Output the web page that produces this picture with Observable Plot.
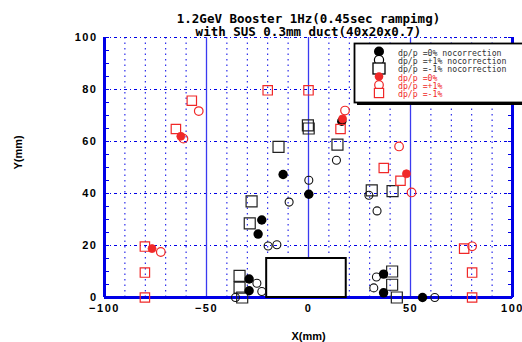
<!DOCTYPE html>
<html><head><meta charset="utf-8">
<script src="https://cdn.jsdelivr.net/npm/d3@7"></script>
<script src="https://cdn.jsdelivr.net/npm/@observablehq/plot@0.6"></script>
<style>
body{margin:0;background:#fff;}
#wrap{position:relative;width:522px;height:342px;overflow:hidden;background:#fff;}
#legend{position:absolute;left:353px;top:42px;}
</style></head><body><div id="wrap"></div>
<script>
// ---- text ----
const titleLines = ["1.2GeV Booster 1Hz(0.45sec rampimg)", "with SUS 0.3mm duct(40x20x0.7)"];
const xLabel = "X(mm)";
const yLabel = "Y(mm)";
const xTicks = [-100, -50, 0, 50, 100];
const yTicks = [0, 20, 40, 60, 80, 100];
const legendLabels = ["dp/p =0% nocorrection", "dp/p =+1% nocorrection", "dp/p =-1% nocorrection", "dp/p =0%", "dp/p =+1%", "dp/p =-1%"];

// ---- duct outline ----
const ductX = [-20.5, 18.5];
const ductY = [0, 15];

// ---- series: no correction ----
const nc0X = [-12.45, 0.15, -22.9, -24.7, -29.1, -29.1, 16.3, 36.8, 36.8, 55.9];
const nc0Y = [47.3, 39.7, 29.8, 24.4, 7.1, 2.6, 67.8, 9.0, 1.8, 0];
const ncPX = [13.7, 0.15, -9.5, -19.8, -15.5, -25.3, -22.9, -35.8, 29.6, 33.6, 33.3, 32.0, 61.9];
const ncPY = [52.8, 45.1, 36.7, 19.8, 20.3, 5.5, 2.3, 0, 39.3, 33.3, 7.9, 3.7, 0];
const ncMX = [-0.3, 0.1, -14.7, 14.2, -27.9, -28.8, -33.8, -33.8, -32.5, 31.0, 41.2, 41.0, 41.0, 43.3];
const ncMY = [66.2, 65.0, 57.9, 58.8, 37.0, 28.5, 8.3, 3.8, 0, 41.2, 40.9, 10.0, 4.9, 0];

// ---- series: with correction ----
const c0X = [-62.6, -76.7, 16.7, 48.0];
const c0Y = [62.0, 18.8, 68.7, 47.6];
const cPX = [-53.8, -61.3, -72.4, 17.9, 44.4, 50.5, 80.2];
const cPY = [71.7, 61.1, 17.5, 71.9, 58.1, 40.4, 19.7];
const cMX = [-57.2, -65.0, -80.2, -80.2, -80.2, -20.0, 0, 15.7, 36.9, 45.1, 76.3, 80.2, 80.2];
const cMY = [75.7, 64.8, 19.6, 9.6, 0, 79.7, 79.7, 64.8, 49.8, 44.9, 18.8, 9.6, 0];

const zip = (xs, ys) => xs.map((x, i) => ({x, y: ys[i]}));
const duct = [{x1: ductX[0], x2: ductX[1], y1: ductY[0], y2: ductY[1]}];

const BLUE = "#0000e6";
const RED = "#f02828";
const gridV = d3.range(-90, 100, 10).filter(v => v % 50 !== 0);
const gridH = [20, 40, 60, 80, 100];
const minorY = d3.range(0, 101, 5);

const tickFont = {fontFamily: "'Liberation Sans', Arial, sans-serif", fontWeight: "bold", fontSize: 11};

const plot = Plot.plot({
  width: 522, height: 342,
  marginLeft: 104, marginRight: 10, marginTop: 37, marginBottom: 45,
  x: {domain: [-100, 100], label: null},
  y: {domain: [0, 100], label: null},
  style: {background: "white", color: "black"},
  marks: [
    Plot.ruleX(gridV, {stroke: BLUE, strokeWidth: 1, strokeDasharray: "1.5,4"}),
    Plot.ruleY(gridH, {stroke: BLUE, strokeWidth: 1, strokeDasharray: "3,3,1,3"}),
    Plot.ruleX([-50, 0, 50], {stroke: "#3a3af0", strokeWidth: 1.3}),
    Plot.axisY({anchor: "left", ticks: minorY, tickSize: -5, tickFormat: () => "", stroke: BLUE, label: null}),
    Plot.axisY({anchor: "right", ticks: minorY, tickSize: -5, tickFormat: () => "", stroke: BLUE, label: null}),
    Plot.axisY({anchor: "left", ticks: yTicks, tickSize: 0, tickPadding: 7, label: null, ...tickFont}),
    Plot.axisX({anchor: "bottom", ticks: xTicks, tickSize: 0, tickPadding: 7, label: null, ...tickFont}),
    Plot.ruleX([-100, 100], {stroke: BLUE, strokeWidth: 3}),
    Plot.ruleY([0], {stroke: BLUE, strokeWidth: 3}),
    Plot.rect(duct, {x1: "x1", x2: "x2", y1: "y1", y2: "y2", fill: "white", stroke: "black", strokeWidth: 2}),
    Plot.dot(zip(ncMX, ncMY), {x: "x", y: "y", symbol: "square", r: 6.2, stroke: "#222", strokeWidth: 1.2, fill: "none"}),
    Plot.dot(zip(ncPX, ncPY), {x: "x", y: "y", r: 4, stroke: "#111", strokeWidth: 1.1, fill: "none"}),
    Plot.dot(zip(nc0X, nc0Y), {x: "x", y: "y", r: 4.7, fill: "black", stroke: "none"}),
    Plot.dot(zip(cMX, cMY), {x: "x", y: "y", symbol: "square", r: 5.3, stroke: RED, strokeWidth: 1.2, fill: "none"}),
    Plot.dot(zip(cPX, cPY), {x: "x", y: "y", r: 4.3, stroke: RED, strokeWidth: 1.2, fill: "none"}),
    Plot.dot(zip(c0X, c0Y), {x: "x", y: "y", r: 4, fill: RED, stroke: RED, strokeWidth: 0.8}),
    Plot.text([titleLines[0]], {frameAnchor: "top", lineAnchor: "middle", dy: -18.5, fontFamily: "'DejaVu Sans Mono', monospace", fontWeight: "bold", fontSize: 12.5, fill: "black"}),
    Plot.text([titleLines[1]], {frameAnchor: "top", lineAnchor: "middle", dy: -6, fontFamily: "'DejaVu Sans Mono', monospace", fontWeight: "bold", fontSize: 12.5, fill: "black"}),
    Plot.text([xLabel], {frameAnchor: "bottom", lineAnchor: "middle", dy: 39, ...tickFont, fill: "black"}),
    Plot.text([yLabel], {frameAnchor: "left", lineAnchor: "middle", dx: -86, dy: 2, rotate: -90, ...tickFont, fill: "black"})
  ]
});

const wrap = document.getElementById("wrap");
wrap.appendChild(plot);
d3.select(plot).selectAll('g[aria-label="y-axis tick label"] text, g[aria-label="x-axis tick label"] text')
  .style("letter-spacing", "1.5px");

// ---- legend overlay ----
const lg = d3.select(wrap).append("svg").attr("id", "legend").attr("width", 175).attr("height", 68);
lg.append("rect").attr("x", 4).attr("y", 4).attr("width", 180).attr("height", 59).attr("fill", "black");
lg.append("rect").attr("x", 1.5).attr("y", 1.5).attr("width", 180).attr("height", 59)
  .attr("fill", "white").attr("stroke", "black").attr("stroke-width", 1.8);
const mx = 26;
const my = [9.5, 18, 26.5, 34.5, 43, 51];
const ty = [11, 19, 26.5, 36, 44, 52];
const sym = lg.append("g");
sym.append("circle").attr("cx", mx).attr("cy", my[0]).attr("r", 5).attr("fill", "black");
sym.append("circle").attr("cx", mx).attr("cy", my[1]).attr("r", 4.6).attr("fill", "white").attr("stroke", "black").attr("stroke-width", 1.2);
sym.append("rect").attr("x", mx - 6).attr("y", my[2] - 5.5).attr("width", 12).attr("height", 11).attr("fill", "white").attr("stroke", "black").attr("stroke-width", 1.3);
sym.append("circle").attr("cx", mx).attr("cy", my[3]).attr("r", 4.3).attr("fill", RED);
sym.append("circle").attr("cx", mx).attr("cy", my[4]).attr("r", 4.3).attr("fill", "white").attr("stroke", RED).attr("stroke-width", 1.2);
sym.append("rect").attr("x", mx - 4.6).attr("y", my[5] - 4.6).attr("width", 9.2).attr("height", 9.2).attr("fill", "white").attr("stroke", RED).attr("stroke-width", 1.2);
lg.append("g").selectAll("text").data(legendLabels).join("text")
  .attr("x", 45).attr("y", (d, i) => ty[i])
  .attr("dominant-baseline", "central")
  .attr("font-family", "'DejaVu Sans Mono', monospace")
  .attr("font-size", 8.2)
  .attr("fill", (d, i) => i < 3 ? "#333" : RED)
  .text(d => d);
</script></body></html>
